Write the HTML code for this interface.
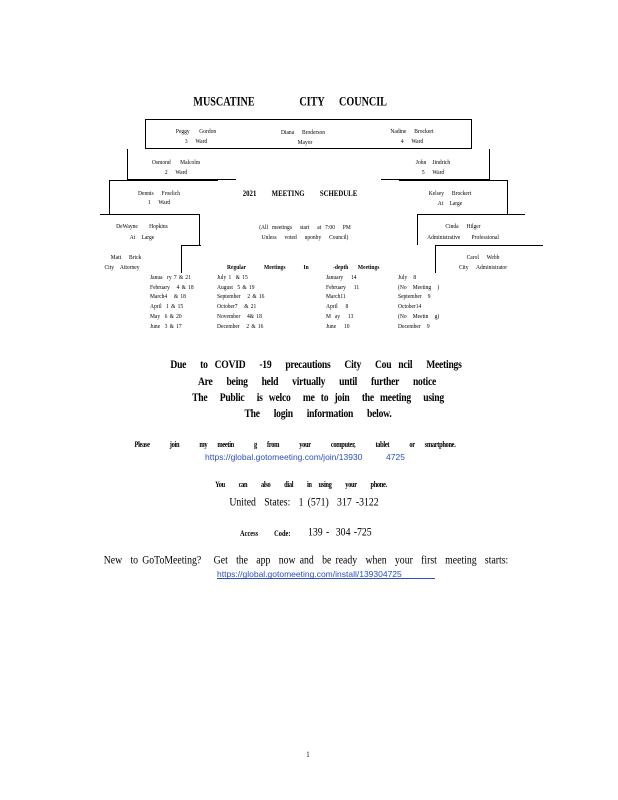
<!DOCTYPE html>
<html><head><meta charset="utf-8"><style>
body{margin:0;background:#fff;}
#p{position:relative;width:618px;height:800px;overflow:hidden;background:#fff;font-family:"Liberation Serif",serif;color:#000;}
.t{position:absolute;white-space:pre;transform:translate(-50%,-50%) scaleX(.85);font-size:6.5px;line-height:1;}
.l{position:absolute;white-space:pre;transform:translateY(-50%) scaleX(.85);transform-origin:left center;font-size:6.5px;line-height:1;}
.b{font-weight:bold;}
.h{position:absolute;background:#000;height:1px;}
.v{position:absolute;background:#000;width:1px;}
.c{font-weight:bold;font-size:12px;letter-spacing:-0.3px;transform:translate(-50%,-50%) scaleX(.8);}
.lnk{color:#2a4fc4;font-family:"Liberation Sans",sans-serif;}
.tb{position:absolute;white-space:pre;transform-origin:left top;transform:scaleX(.85);font-size:6.5px;line-height:9.7px;}
</style></head><body><div id="p">
<div class="t b" style="left:224px;top:101px;font-size:13px;transform:translate(-50%,-50%) scaleX(.78)">MUSCATINE</div>
<div class="t b" style="left:312px;top:101px;font-size:13px;transform:translate(-50%,-50%) scaleX(.78)">CITY</div>
<div class="t b" style="left:363px;top:101px;font-size:13px;transform:translate(-50%,-50%) scaleX(.78)">COUNCIL</div>

<div class="h" style="left:145px;top:119px;width:327px"></div>
<div class="h" style="left:145px;top:148px;width:327px"></div>
<div class="v" style="left:145px;top:119px;height:30px"></div>
<div class="v" style="left:471px;top:119px;height:30px"></div>
<div class="v" style="left:127px;top:149px;height:31px"></div>
<div class="h" style="left:127px;top:179px;width:109px"></div>
<div class="v" style="left:489px;top:149px;height:31px"></div>
<div class="h" style="left:381px;top:179px;width:109px"></div>
<div class="h" style="left:109px;top:180px;width:109px"></div>
<div class="v" style="left:109px;top:180px;height:34px"></div>
<div class="h" style="left:399px;top:180px;width:108px"></div>
<div class="v" style="left:507px;top:180px;height:34px"></div>
<div class="h" style="left:100px;top:214px;width:99px"></div>
<div class="v" style="left:199px;top:214px;height:31px"></div>
<div class="h" style="left:417px;top:214px;width:108px"></div>
<div class="v" style="left:417px;top:214px;height:31px"></div>
<div class="h" style="left:181px;top:245px;width:20px"></div>
<div class="v" style="left:181px;top:245px;height:28px"></div>
<div class="h" style="left:435px;top:245px;width:108px"></div>
<div class="v" style="left:435px;top:245px;height:28px"></div>

<div class="t" style="left:196px;top:132px;word-spacing:4px">Peggy  Gordon</div>
<div class="t" style="left:196px;top:142px;word-spacing:3px">3  Ward</div>
<div class="t" style="left:303px;top:133px;word-spacing:3px">Diana  Broderson</div>
<div class="t" style="left:305px;top:143px">Mayor</div>
<div class="t" style="left:412px;top:132px;word-spacing:3px">Nadine  Brockert</div>
<div class="t" style="left:412px;top:142px;word-spacing:3px">4  Ward</div>
<div class="t" style="left:176px;top:163px;word-spacing:4px">Osmond  Malcolm</div>
<div class="t" style="left:176px;top:173px;word-spacing:3px">2  Ward</div>
<div class="t" style="left:433px;top:163px;word-spacing:2px">John  Jindrich</div>
<div class="t" style="left:433px;top:173px;word-spacing:3px">5  Ward</div>
<div class="t" style="left:159px;top:194px;word-spacing:3px">Dennis  Froelich</div>
<div class="t" style="left:159px;top:203px;word-spacing:3px">1  Ward</div>
<div class="t b" style="left:300px;top:194px;font-size:8px;word-spacing:7px">2021  MEETING  SCHEDULE</div>
<div class="t" style="left:450px;top:194px;word-spacing:3px">Kelsey  Brockert</div>
<div class="t" style="left:450px;top:204px;word-spacing:2px">At  Large</div>
<div class="t" style="left:142px;top:227px;word-spacing:5px">DeWayne  Hopkins</div>
<div class="t" style="left:142px;top:238px;word-spacing:2px">At  Large</div>
<div class="t" style="left:305px;top:228px;word-spacing:3px">(All meetings  start  at 7:00  PM</div>
<div class="t" style="left:305px;top:238px;word-spacing:3px">Unless  voted  uponby  Council)</div>
<div class="t" style="left:463px;top:227px;word-spacing:3px">Cinda  Hilger</div>
<div class="t" style="left:463px;top:238px;word-spacing:5px">Administrative  Professional</div>
<div class="t" style="left:126px;top:258px;word-spacing:3px">Matt  Brick</div>
<div class="t" style="left:122px;top:268px;word-spacing:2px">City  Attorney</div>
<div class="t" style="left:483px;top:258px;word-spacing:3px">Carol  Webb</div>
<div class="t" style="left:483px;top:268px;word-spacing:3px">City  Administrator</div>

<div class="l b" style="left:227px;top:268px;word-spacing:9px">Regular  Meetings  In</div>
<div class="l b" style="left:333px;top:268px;word-spacing:4px">-depth  Meetings</div>

<div class="tb" style="left:150px;top:273px;word-spacing:1px">Janua  ry 7 &amp; 21
February   4 &amp; 18
March4   &amp; 18
April  1 &amp; 15
May  6 &amp; 20
June  3 &amp; 17</div>
<div class="tb" style="left:217px;top:273px;word-spacing:1px">July 1  &amp; 15
August  5 &amp; 19
September   2 &amp; 16
October7   &amp; 21
November   4&amp; 18
December   2 &amp; 16</div>
<div class="tb" style="left:326px;top:273px;word-spacing:3px">January  14
February  11
March11
April  8
M ay  13
June  10</div>
<div class="tb" style="left:398px;top:273px;word-spacing:2px">July  8
(No  Meeting  )
September  9
October14
(No  Meetin  g)
December  9</div>

<div class="t c" style="left:316px;top:364px;word-spacing:6px">Due  to COVID  -19  precautions  City  Cou ncil  Meetings</div>
<div class="t c" style="left:317px;top:381px;word-spacing:6px">Are  being  held  virtually  until  further  notice</div>
<div class="t c" style="left:318px;top:397px;word-spacing:5px">The  Public  is welco  me to join  the meeting  using</div>
<div class="t c" style="left:318px;top:413px;word-spacing:6px">The  login  information  below.</div>

<div class="t b" style="left:295px;top:445px;font-size:8px;word-spacing:11px;letter-spacing:-0.4px;transform:translate(-50%,-50%) scaleX(.8)">Please  join  my meetin  g from  your  computer,  tablet  or smartphone.</div>
<div class="t lnk" style="left:305px;top:457px;font-size:8.5px;transform:translate(-50%,-50%)">https://global.gotomeeting.com/join/13930          4725</div>
<div class="t b" style="left:301px;top:485px;font-size:8px;word-spacing:7px;letter-spacing:-0.4px;transform:translate(-50%,-50%) scaleX(.8)">You  can  also  dial  in using  your  phone.</div>
<div class="t" style="left:304px;top:503px;font-size:11.5px;word-spacing:2px">United  States:  1 (571)  317 -3122</div>
<div class="l b" style="left:240px;top:534px;font-size:8px;word-spacing:8px;transform:translateY(-50%) scaleX(.8)">Access  Code:</div>
<div class="l" style="left:308px;top:533px;font-size:11.5px;word-spacing:1px">139 -  304 -725</div>
<div class="t" style="left:306px;top:561px;font-size:11.5px;word-spacing:2px">New  to GoToMeeting?   Get  the  app  now and  be ready  when  your  first  meeting  starts:</div>
<div class="l lnk" style="left:217px;top:574px;font-size:8.5px;transform:translateY(-50%)">https://global.gotomeeting.com/install/139304725</div>
<div class="h" style="left:217px;top:578px;width:218px;background:#2a4fc4"></div>
<div class="t" style="left:308px;top:755px;font-size:8px">1</div>
</div></body></html>
